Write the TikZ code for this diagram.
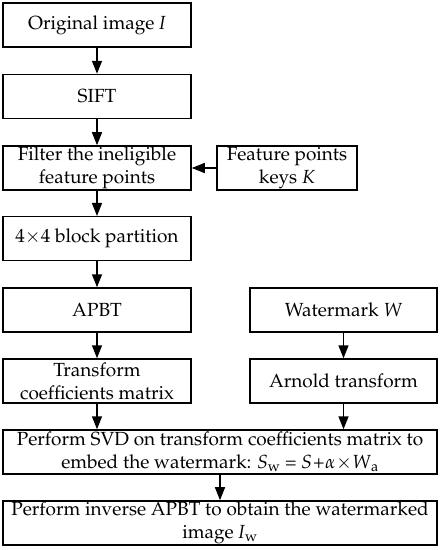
\documentclass[tikz,border=0pt]{standalone}
\usepackage[T1]{fontenc}
\usepackage{mathpazo}
\usetikzlibrary{arrows.meta}
\tikzset{
  box/.style={draw, line width=1.5pt, minimum height=44pt, inner sep=1pt, align=center, font=\fontsize{19}{23}\selectfont},
  arr/.style={line width=1.5pt, -{Triangle[length=13pt,width=10pt]}}
}
\begin{document}
\begin{tikzpicture}[x=1pt,y=-1pt]
\useasboundingbox (0,0) rectangle (442,550);
\node[box, minimum width=188pt] (b1) at (97,25) {Original image \textit{I}};
\node[box, minimum width=188pt] (b2) at (97,96.5) {SIFT};
\node[box, minimum width=188pt] (b3) at (97,168) {Filter the ineligible\\feature points};
\node[box, minimum width=140pt] (fk) at (287,168) {Feature points\\keys \textit{K}};
\node[box, minimum width=188pt] (b4) at (97,238.7) {4$\times$4 block partition};
\node[box, minimum width=188pt] (ap) at (97,310) {APBT};
\node[box, minimum width=187pt] (wm) at (343.5,310) {Watermark \textit{W}};
\node[box, minimum width=188pt] (tc) at (97,381) {Transform\\coefficients matrix};
\node[box, minimum width=187pt] (ar) at (343.5,381) {Arnold transform};
\node[box, minimum width=434pt] (svd) at (220,452) {Perform SVD on transform coefficients matrix to\\embed the watermark: \textit{S}\textsubscript{w} = \textit{S}\kern1pt+\kern0.5pt$\alpha$\kern0.5pt$\times$\kern0.5pt\textit{W}\textsubscript{a}};
\node[box, minimum width=434pt] (inv) at (220,523) {Perform inverse APBT to obtain the watermarked\\image \textit{I}\textsubscript{w}};
\draw[arr] (b1) -- (b2);
\draw[arr] (b2) -- (b3);
\draw[arr] (fk) -- (b3);
\draw[arr] (b3) -- (b4);
\draw[arr] (b4) -- (ap);
\draw[arr] (ap) -- (tc);
\draw[arr] (wm) -- (ar);
\draw[arr] (tc.south) -- (tc.south |- svd.north);
\draw[arr] (ar.south) -- (ar.south |- svd.north);
\draw[arr] (svd) -- (inv);
\end{tikzpicture}
\end{document}
